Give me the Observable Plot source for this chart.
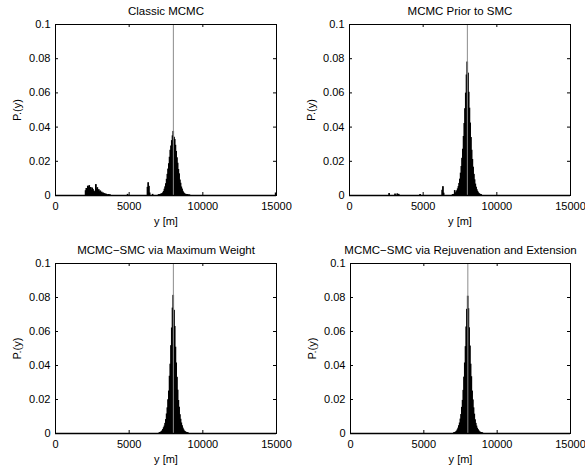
<!DOCTYPE html>
<html>
<head>
<meta charset="utf-8">
<script src="https://cdn.jsdelivr.net/npm/d3@7"></script>
<script src="https://cdn.jsdelivr.net/npm/@observablehq/plot@0.6"></script>
<style>
  html, body { margin: 0; padding: 0; background: #fff; }
  #wrap { position: relative; width: 585px; height: 471px; overflow: hidden; background: #fff; }
  #wrap > div { position: absolute; }
  svg { overflow: visible; }
</style>
</head>
<body>
<div id="wrap"></div>
<script>
// ---------------- data ----------------
const titles = [
  "Classic MCMC",
  "MCMC Prior to SMC",
  "MCMC\u2212SMC via Maximum Weight",
  "MCMC\u2212SMC via Rejuvenation and Extension"
];
const xLabel = "y [m]";
const yLabel = "P.(y)";
const xTicks = [0, 5000, 10000, 15000];
const yTicks = [0, 0.02, 0.04, 0.06, 0.08, 0.1];
const yTickLabels = ["0", "0.02", "0.04", "0.06", "0.08", "0.1"];
const trueValue = 8000;
const binWidth = 50;

// histogram bins around the main mode (bin start, metres)
const peakBins = [7100, 7150, 7200, 7250, 7300, 7350, 7400, 7450, 7500, 7550,
  7600, 7650, 7700, 7750, 7800, 7850, 7900, 7950, 8000, 8050,
  8100, 8150, 8200, 8250, 8300, 8350, 8400, 8450, 8500, 8550,
  8600, 8650, 8700, 8750, 8800, 8850, 8900, 8950];

const classicPeak = [0.0003, 0.0005, 0.0006, 0.0009, 0.0013, 0.0021, 0.0034, 0.0048, 0.0066, 0.0092,
  0.0121, 0.0152, 0.0183, 0.0221, 0.0262, 0.0287, 0.0318, 0.0346, 0.0372, 0.0338,
  0.0325, 0.0291, 0.0255, 0.0218, 0.0186, 0.0149, 0.0124, 0.0088, 0.0069, 0.0047,
  0.0035, 0.0022, 0.0014, 0.0008, 0.0005, 0.0004, 0.0002, 0.0002];
const priorPeak = [0.0004, 0.0026, 0.0011, 0.0017, 0.0025, 0.0036, 0.0049, 0.0068, 0.0093, 0.0128,
  0.0167, 0.0215, 0.0268, 0.0342, 0.0418, 0.0505, 0.0596, 0.0702, 0.0778, 0.0713,
  0.0601, 0.0508, 0.0421, 0.0336, 0.0262, 0.0208, 0.0163, 0.0121, 0.0089, 0.0064,
  0.0046, 0.0031, 0.0021, 0.0013, 0.0008, 0.0005, 0.0003, 0.0002];
const maxWeightPeak = [0.0003, 0.0005, 0.0008, 0.0013, 0.0021, 0.0031, 0.0041, 0.0057, 0.0079, 0.0112,
  0.0148, 0.0196, 0.0247, 0.0334, 0.0405, 0.0514, 0.0618, 0.0735, 0.0810, 0.0722,
  0.0627, 0.0505, 0.0412, 0.0328, 0.0252, 0.0191, 0.0152, 0.0108, 0.0081, 0.0059,
  0.0043, 0.0029, 0.0019, 0.0012, 0.0008, 0.0005, 0.0003, 0.0002];
const rejuvPeak = [0.0002, 0.0004, 0.0007, 0.0012, 0.0019, 0.0029, 0.0043, 0.0059, 0.0082, 0.0109,
  0.0151, 0.0192, 0.0251, 0.0329, 0.0412, 0.0508, 0.0624, 0.0728, 0.0805, 0.0731,
  0.0619, 0.0512, 0.0405, 0.0331, 0.0247, 0.0195, 0.0148, 0.0111, 0.0078, 0.0057,
  0.0041, 0.0028, 0.0020, 0.0013, 0.0007, 0.0005, 0.0003, 0.0002];

// outlying bins (bin start, value)
const classicOtherBins = [2050, 2100, 2150, 2200, 2250, 2300, 2350, 2400, 2450, 2500,
  2550, 2600, 2650, 2700, 2750, 2800, 2850, 2900, 2950, 3000,
  3050, 3100, 3150, 3200, 3250, 3300, 3350, 3400, 3450, 3500,
  3600, 3700, 4900, 6250, 6300, 6350, 6400, 6600, 7000, 7050, 9000, 9100, 14950];
const classicOtherVals = [0.0025, 0.0038, 0.0031, 0.0052, 0.0047, 0.0055, 0.0036, 0.0044, 0.0029, 0.0041,
  0.0033, 0.0024, 0.0018, 0.0021, 0.0061, 0.0035, 0.0043, 0.0028, 0.0031, 0.0019,
  0.0024, 0.0014, 0.0017, 0.0009, 0.0012, 0.0006, 0.0008, 0.0004, 0.0005, 0.0003,
  0.0003, 0.0002, 0.0004, 0.0045, 0.0072, 0.0051, 0.0012, 0.0004, 0.0002, 0.0002, 0.0002, 0.0001, 0.0012];
const priorOtherBins = [2700, 3100, 3250, 3350, 4800, 6300, 6350, 6400, 7000, 7050];
const priorOtherVals = [0.0009, 0.0006, 0.0007, 0.0004, 0.0003, 0.0028, 0.0049, 0.0011, 0.0002, 0.0003];
const maxWeightOtherBins = [7050, 9000];
const maxWeightOtherVals = [0.0001, 0.0001];
const rejuvOtherBins = [7050, 9000];
const rejuvOtherVals = [0.0001, 0.0001];

// ---------------- drawing ----------------
function toRows(starts, vals) {
  return starts.map((s, i) => ({x1: s, x2: s + binWidth, y: vals[i]}));
}

const panels = [
  {title: titles[0], rows: toRows(peakBins, classicPeak).concat(toRows(classicOtherBins, classicOtherVals)),
   left: 0, top: 0, width: 292, height: 230, ml: 55, mr: 16, mt: 24, mb: 35},
  {title: titles[1], rows: toRows(peakBins, priorPeak).concat(toRows(priorOtherBins, priorOtherVals)),
   left: 292, top: 0, width: 293, height: 230, ml: 57, mr: 15, mt: 24, mb: 35},
  {title: titles[2], rows: toRows(peakBins, maxWeightPeak).concat(toRows(maxWeightOtherBins, maxWeightOtherVals)),
   left: 0, top: 230, width: 292, height: 241, ml: 55, mr: 16, mt: 33, mb: 38},
  {title: titles[3], rows: toRows(peakBins, rejuvPeak).concat(toRows(rejuvOtherBins, rejuvOtherVals)),
   left: 292, top: 230, width: 293, height: 241, ml: 58, mr: 15, mt: 33, mb: 38}
];

const wrap = document.getElementById("wrap");
const tick = 3;

for (const p of panels) {
  const pw = p.width - p.ml - p.mr;
  const ph = p.height - p.mt - p.mb;
  const chart = Plot.plot({
    width: p.width,
    height: p.height,
    marginLeft: p.ml,
    marginRight: p.mr,
    marginTop: p.mt,
    marginBottom: p.mb,
    x: {domain: [0, 15000], axis: null},
    y: {domain: [0, 0.1], axis: null},
    style: {fontFamily: "'Liberation Sans', Arial, Helvetica, sans-serif", fontSize: "11px", color: "black", background: "white", overflow: "visible"},
    marks: [
      Plot.rectY(p.rows, {x1: "x1", x2: "x2", y: "y", fill: "black", stroke: "black", strokeWidth: 0.9}),
      Plot.ruleX([trueValue], {stroke: "#8c8c8c", strokeWidth: 1}),
      Plot.ruleY([0], {stroke: "black", strokeWidth: 1.6}),
      // inward tick marks on all four sides
      Plot.ruleY(yTicks, {y: d => d, insetRight: pw - tick, stroke: "black"}),
      Plot.ruleY(yTicks, {y: d => d, insetLeft: pw - tick, stroke: "black"}),
      Plot.ruleX(xTicks, {x: d => d, insetTop: ph - tick, stroke: "black"}),
      Plot.ruleX(xTicks, {x: d => d, insetBottom: ph - tick, stroke: "black"}),
      Plot.frame({stroke: "black", strokeWidth: 1}),
      // tick labels
      Plot.text(xTicks, {x: d => d, frameAnchor: "bottom", dy: 11, text: d => String(d), lineAnchor: "middle", fill: "black", fontSize: 11}),
      Plot.text(yTicks, {y: d => d, frameAnchor: "left", dx: -5, text: (d, i) => yTickLabels[i], textAnchor: "end", lineAnchor: "middle", fill: "black", fontSize: 11}),
      // axis labels and title
      Plot.text([xLabel], {frameAnchor: "bottom", dy: 25.5, text: d => d, lineAnchor: "middle", fill: "black", fontSize: 11}),
      Plot.text([yLabel], {frameAnchor: "left", dx: -38, rotate: -90, text: d => d, lineAnchor: "middle", textAnchor: "middle", fill: "black", fontSize: 11}),
      Plot.text([p.title], {frameAnchor: "top", dy: -13, text: d => d, lineAnchor: "middle", fill: "black", fontSize: 11.5})
    ]
  });
  const holder = document.createElement("div");
  holder.style.left = p.left + "px";
  holder.style.top = p.top + "px";
  holder.appendChild(chart);
  wrap.appendChild(holder);
}
</script>
</body>
</html>
